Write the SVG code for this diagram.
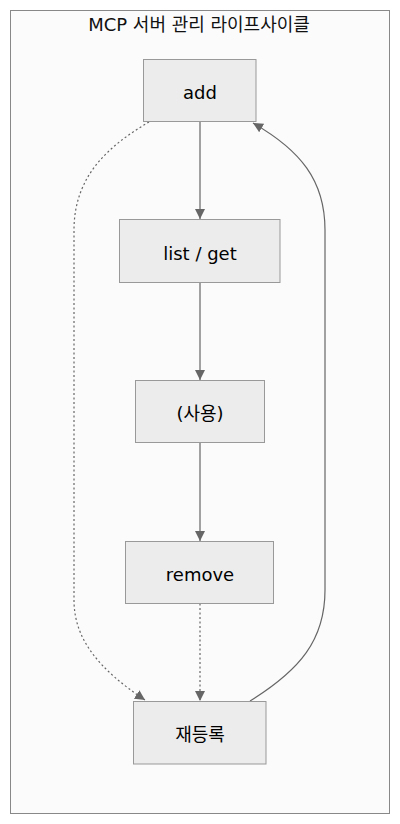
<svg xmlns="http://www.w3.org/2000/svg" width="400" height="824" viewBox="0 0 400 824">
<style>
.node rect{fill:#ececec;stroke:#999;stroke-width:1}
.node text{font-family:"DejaVu Sans","Noto Sans CJK KR",sans-serif;font-size:18px;fill:#000;text-anchor:middle}
.edge{fill:none;stroke:#666;stroke-width:1.2}
.dot{stroke-dasharray:2 2.5}
.title{font-family:"DejaVu Sans","Noto Sans CJK KR",sans-serif;font-size:18px;fill:#111;text-anchor:middle}
</style>
<defs>
<marker id="arr" viewBox="0 0 10 10" refX="10" refY="5" markerWidth="10" markerHeight="11" markerUnits="userSpaceOnUse" orient="auto">
<path d="M0,0 L10,5 L0,10 z" fill="#666"/>
</marker>
</defs>
<rect width="400" height="824" fill="#ffffff"/>
<g id="cluster">
<rect x="10.5" y="10.5" width="379" height="803" fill="#fbfbfb" stroke="#888" stroke-width="1"/>
<text class="title" x="199" y="31">MCP 서버 관리 라이프사이클</text>
</g>
<g id="connectors">
<path class="edge" d="M200,121.5 L200,219" marker-end="url(#arr)"/>
<path class="edge" d="M200,282.5 L200,380" marker-end="url(#arr)"/>
<path class="edge" d="M200,442.5 L200,541" marker-end="url(#arr)"/>
<path class="edge dot" d="M200,603.5 L200,701" marker-end="url(#arr)"/>
<path class="edge dot" d="M149,122 C110,145 74,175 74,230 L74,600 C74,640 100,670 145,700" marker-end="url(#arr)"/>
<path class="edge" d="M250,701 C300,670 325,640 325,590 L325,230 C325,180 300,150 253,123" marker-end="url(#arr)"/>
</g>
<g id="add" class="node">
<rect x="143.5" y="59.5" width="112.5" height="62"/>
<text x="200" y="99">add</text>
</g>
<g id="listget" class="node">
<rect x="119.5" y="219.5" width="160.5" height="63"/>
<text x="200" y="260">list / get</text>
</g>
<g id="use" class="node">
<rect x="135.5" y="380.5" width="129" height="62"/>
<text x="200" y="420">(사용)</text>
</g>
<g id="remove" class="node">
<rect x="125.5" y="541.5" width="148" height="62"/>
<text x="200" y="581">remove</text>
</g>
<g id="reregister" class="node">
<rect x="133.5" y="701.5" width="132.5" height="62.5"/>
<text x="200" y="741">재등록</text>
</g>
</svg>
